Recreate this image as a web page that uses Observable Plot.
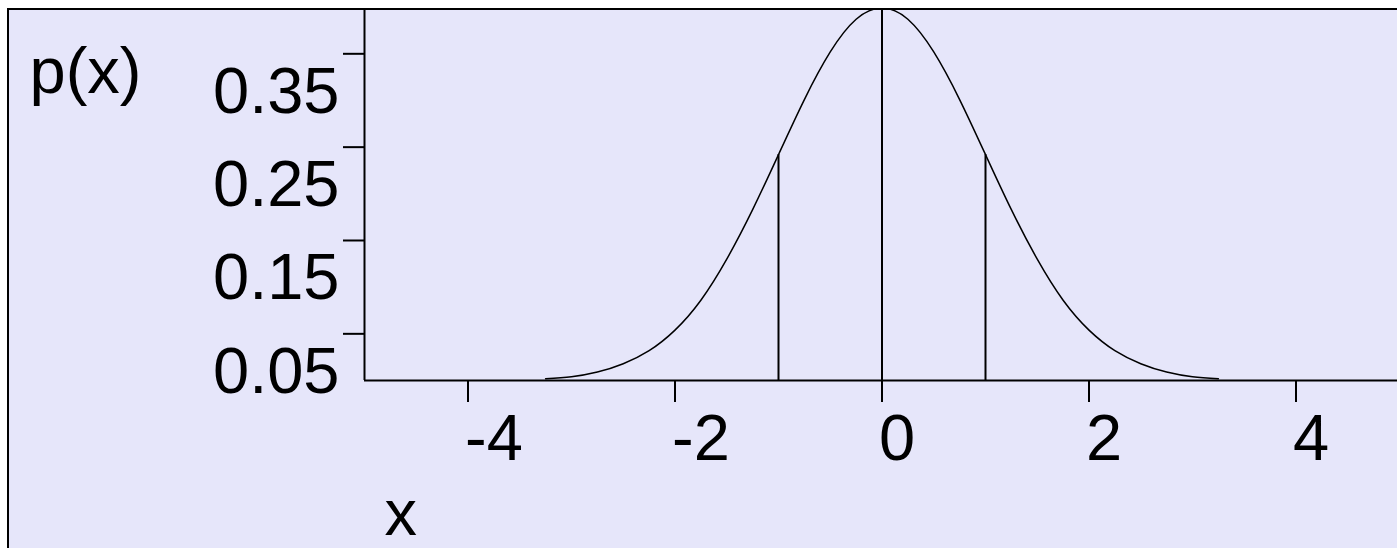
<!DOCTYPE html>
<html>
<head>
<meta charset="utf-8">
<script src="https://cdn.jsdelivr.net/npm/d3@7"></script>
<script src="https://cdn.jsdelivr.net/npm/@observablehq/plot@0.6"></script>
<style>
  html, body { margin: 0; padding: 0; background: #ffffff; width: 1397px; height: 548px; overflow: hidden; }
  #panel {
    position: absolute; left: 7px; top: 8px; right: 0; bottom: 0;
    border-left: 2px solid #000; border-top: 2px solid #000;
    background: #e6e6fa; overflow: hidden;
  }
</style>
</head>
<body>
<div id="panel"></div>
<script>
// Standard normal density p(x), sampled every 0.25
const xs = [-3.25, -3.0, -2.75, -2.5, -2.25, -2.0, -1.75, -1.5, -1.25, -1.0, -0.75, -0.5, -0.25,
            0, 0.25, 0.5, 0.75, 1.0, 1.25, 1.5, 1.75, 2.0, 2.25, 2.5, 2.75, 3.0, 3.25];
const ps = [0.002, 0.004, 0.009, 0.018, 0.032, 0.054, 0.086, 0.130, 0.183, 0.242, 0.301, 0.352, 0.387,
            0.399, 0.387, 0.352, 0.301, 0.242, 0.183, 0.130, 0.086, 0.054, 0.032, 0.018, 0.009, 0.004, 0.002];

// Vertical markers at the mean and at one standard deviation either side
const markX = [-1, 0, 1];
const markP = [0.242, 0.399, 0.242];

// Axis ticks
const xTicks = [-4, -2, 0, 2, 4];
const yTicks = [0.05, 0.15, 0.25, 0.35];

const curve = xs.map((x, i) => ({x, p: ps[i]}));
const marks = markX.map((x, i) => ({x, p: markP[i]}));

const W = 1388, H = 538;
const font = "'Liberation Sans', Arial, Helvetica, sans-serif";

const chart = Plot.plot({
  width: W,
  height: H,
  marginLeft: 355,
  marginRight: -2,
  marginTop: 0,
  marginBottom: 168,
  style: {background: "transparent", overflow: "hidden", maxWidth: "none", fontFamily: font, color: "#000"},
  x: {domain: [-5, 5], range: [355, 1390], axis: null},
  y: {domain: [0, 0.3964], range: [370, 0], axis: null},
  marks: [
    // tick marks
    Plot.axisX({ticks: xTicks, tickSize: 22, tickFormat: () => "", label: null, strokeWidth: 2, stroke: "#000"}),
    Plot.axisY({ticks: yTicks, tickSize: 21, tickFormat: () => "", label: null, strokeWidth: 2, stroke: "#000"}),
    // tick labels
    Plot.text(xTicks, {x: d => d, y: 0, text: d => String(d), textAnchor: "start", lineAnchor: "bottom",
      dx: -3, dy: 79, fontSize: 65, fill: "#000"}),
    Plot.text(yTicks, {x: -5, y: d => d, text: d => String(d), textAnchor: "end", lineAnchor: "middle",
      dx: -25, dy: 38, fontSize: 65, fill: "#000"}),
    // axis lines
    Plot.ruleX([-5], {stroke: "#000", strokeWidth: 2}),
    Plot.ruleY([0], {stroke: "#000", strokeWidth: 2}),
    // density curve
    Plot.line(curve, {x: "x", y: "p", curve: "natural", stroke: "#000", strokeWidth: 1.5}),
    // markers
    Plot.ruleX(marks, {x: "x", y1: 0, y2: "p", stroke: "#000", strokeWidth: 2}),
    // axis titles
    Plot.text(["p(x)"], {frameAnchor: "top-left", text: d => d, textAnchor: "start", lineAnchor: "bottom",
      dx: -335, dy: 82, fontSize: 65, fill: "#000"}),
    Plot.text(["x"], {frameAnchor: "bottom-left", text: d => d, textAnchor: "start", lineAnchor: "bottom",
      dx: 20, dy: 154, fontSize: 65, fill: "#000"})
  ]
});

document.getElementById("panel").appendChild(chart);
</script>
</body>
</html>
